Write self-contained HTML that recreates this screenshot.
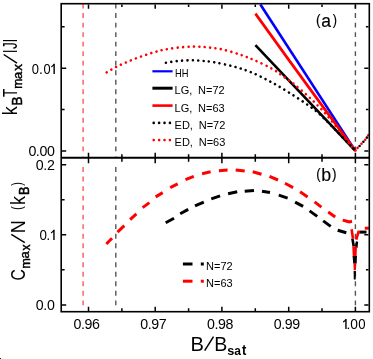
<!DOCTYPE html>
<html><head><meta charset="utf-8"><title>chart</title>
<style>
html,body{margin:0;padding:0;background:#fff;}
body{width:373px;height:359px;position:relative;overflow:hidden;font-family:"Liberation Sans",sans-serif;}
</style></head><body>
<svg width="373" height="359" viewBox="0 0 373 359" style="position:absolute;left:0;top:0;will-change:transform">
<rect x="0" y="0" width="373" height="359" fill="#fff"/>
<g fill="none" stroke-width="1.4" stroke-dasharray="4.9 4.62">
<line x1="83.1" y1="3.6" x2="83.1" y2="156.5" stroke="#ff5555"/>
<line x1="83.1" y1="167.1" x2="83.1" y2="306" stroke="#ff5555"/>
<line x1="115.8" y1="3.6" x2="115.8" y2="156.5" stroke="#555"/>
<line x1="115.8" y1="167.1" x2="115.8" y2="306" stroke="#555"/>
<line x1="355.4" y1="3.6" x2="355.4" y2="156.5" stroke="#555"/>
<line x1="355.4" y1="167.1" x2="355.4" y2="306" stroke="#555"/>
</g>
<g fill="none" stroke-linecap="butt">
<line x1="260.4" y1="4.5" x2="355.2" y2="150.6" stroke="#0000ff" stroke-width="2.6"/>
<line x1="255.4" y1="45.1" x2="355.2" y2="150.6" stroke="#000" stroke-width="2.6"/>
<path d="M255.4 13.6 L288.4 59.4 L330 116.4 L355.2 150.6" stroke="#ff0000" stroke-width="2.7"/>
</g>
<g fill="none" stroke-linecap="round" stroke-width="2.6" stroke-dasharray="0.01 5.4">
<path d="M165.9 62.7 C167.9 62.4 173.8 61.4 178.0 61.0 C182.2 60.6 186.8 60.3 190.8 60.3 C194.8 60.3 198.2 60.5 202.0 60.8 C205.8 61.1 208.5 61.3 213.6 62.2 C218.7 63.1 226.3 64.6 232.4 66.2 C238.5 67.8 243.8 69.3 250.0 71.8 C256.2 74.3 263.2 77.8 269.8 81.3 C276.4 84.8 283.0 88.8 289.6 92.9 C296.2 97.0 304.2 102.4 309.3 106.0 C314.4 109.6 316.6 111.4 320.0 114.5 C323.4 117.6 326.7 121.0 330.0 124.4 C333.3 127.8 335.8 130.4 340.0 134.7 C344.2 139.0 352.7 147.6 355.2 150.2" stroke="#000"/>
<path d="M106.7 72.4 C108.3 71.5 112.6 68.8 116.1 67.0 C119.6 65.2 123.5 63.5 127.5 61.8 C131.5 60.1 135.9 58.3 140.2 56.8 C144.4 55.3 149.0 53.8 153.0 52.6 C157.0 51.4 159.8 50.6 164.0 49.8 C168.2 49.0 173.1 48.1 178.0 47.6 C182.9 47.1 188.7 46.7 193.5 46.6 C198.3 46.5 202.3 46.8 207.0 47.3 C211.7 47.8 216.1 48.1 221.7 49.3 C227.3 50.5 234.9 52.9 240.4 54.7 C245.9 56.6 249.5 58.1 254.8 60.4 C260.1 62.7 267.3 66.1 272.0 68.7 C276.7 71.3 279.2 73.5 283.0 76.2 C286.8 78.9 290.1 80.9 294.7 84.7 C299.3 88.5 305.7 93.9 310.9 98.8 C316.1 103.7 321.1 108.8 326.0 114.3 C330.9 119.8 336.3 127.0 340.0 131.5 C343.7 136.0 345.5 138.3 348.0 141.4 C350.5 144.5 354.0 148.7 355.2 150.2" stroke="#ff0000"/>
</g>
<circle cx="359.6" cy="146.0" r="1.3" fill="#000"/>
<circle cx="363.4" cy="141.8" r="1.3" fill="#000"/>
<circle cx="366.9" cy="137.6" r="1.3" fill="#000"/>
<circle cx="353.2" cy="148.4" r="1.3" fill="#000"/>
<circle cx="357.6" cy="147.9" r="1.3" fill="#ff0000"/>
<circle cx="361.5" cy="143.8" r="1.3" fill="#ff0000"/>
<circle cx="365.2" cy="139.8" r="1.3" fill="#ff0000"/>
<circle cx="368.3" cy="135.3" r="1.3" fill="#ff0000"/>
<circle cx="355.5" cy="150.5" r="1.3" fill="#ff0000"/>
<g fill="none" stroke-width="3" stroke-linecap="butt">
<line x1="165.7" y1="222.7" x2="174.0" y2="218.2" stroke="#000"/>
<line x1="180.2" y1="213.7" x2="188.2" y2="209.4" stroke="#000"/>
<line x1="195.0" y1="205.9" x2="203.8" y2="202.1" stroke="#000"/>
<line x1="211.3" y1="198.9" x2="220.1" y2="195.8" stroke="#000"/>
<line x1="228.1" y1="193.8" x2="237.2" y2="191.8" stroke="#000"/>
<line x1="244.7" y1="191.3" x2="254.0" y2="190.6" stroke="#000"/>
<line x1="262.0" y1="191.2" x2="270.0" y2="192.6" stroke="#000"/>
<line x1="278.8" y1="195.1" x2="287.6" y2="198.1" stroke="#000"/>
<line x1="295.1" y1="202.1" x2="303.1" y2="206.4" stroke="#000"/>
<line x1="309.6" y1="210.9" x2="317.2" y2="216.4" stroke="#000"/>
<line x1="323.2" y1="220.9" x2="330.7" y2="226.4" stroke="#000"/>
<line x1="337.7" y1="230.2" x2="346.3" y2="232.8" stroke="#000"/>
<line x1="359.3" y1="232.1" x2="366.5" y2="232.1" stroke="#000"/>
<line x1="106.3" y1="244.0" x2="112.0" y2="238.2" stroke="#ff0000"/>
<line x1="117.5" y1="232.2" x2="124.3" y2="225.7" stroke="#ff0000"/>
<line x1="130.1" y1="219.7" x2="136.4" y2="213.9" stroke="#ff0000"/>
<line x1="142.6" y1="207.6" x2="149.4" y2="202.6" stroke="#ff0000"/>
<line x1="155.7" y1="196.9" x2="162.7" y2="192.6" stroke="#ff0000"/>
<line x1="170.2" y1="187.6" x2="177.7" y2="183.8" stroke="#ff0000"/>
<line x1="185.5" y1="179.6" x2="193.8" y2="176.3" stroke="#ff0000"/>
<line x1="202.1" y1="173.8" x2="210.6" y2="171.8" stroke="#ff0000"/>
<line x1="218.9" y1="170.8" x2="227.6" y2="170.0" stroke="#ff0000"/>
<line x1="235.7" y1="170.0" x2="244.7" y2="171.0" stroke="#ff0000"/>
<line x1="252.7" y1="171.8" x2="261.5" y2="174.3" stroke="#ff0000"/>
<line x1="269.5" y1="176.3" x2="278.0" y2="180.0" stroke="#ff0000"/>
<line x1="285.0" y1="183.3" x2="293.1" y2="187.6" stroke="#ff0000"/>
<line x1="300.1" y1="191.8" x2="307.6" y2="196.9" stroke="#ff0000"/>
<line x1="314.6" y1="201.9" x2="321.4" y2="207.1" stroke="#ff0000"/>
<line x1="328.2" y1="212.1" x2="335.2" y2="216.9" stroke="#ff0000"/>
<line x1="364.8" y1="228.2" x2="368.8" y2="228.2" stroke="#ff0000"/>
<path d="M342.7 220.1 L347 221.2 L349.5 221.9 L352 221.3" stroke="#ff0000"/>
<line x1="352.4" y1="238.6" x2="353.7" y2="246.2" stroke="#000" stroke-width="2.6"/>
<line x1="357.0" y1="241.5" x2="356.3" y2="247.8" stroke="#000" stroke-width="2.4"/>
<line x1="351.6" y1="229.2" x2="353.0" y2="238.8" stroke="#ff0000" stroke-width="2.6"/>
<line x1="358.9" y1="230.6" x2="356.2" y2="239.6" stroke="#ff0000" stroke-width="2.6"/>
<path d="M352.2 246.2 L357.0 246.6 L356.5 257 L352.8 257 Z" fill="#ff0000" stroke="none"/>
<path d="M352.6 256 L357.0 256 L356.6 263.4 L353.2 263.4 Z" fill="#000" stroke="none"/>
<path d="M353.4 263.2 L356.3 263.2 L355.9 270.2 L353.7 270.2 Z" fill="#ff0000" stroke="none"/>
<path d="M353.6 271 L355.9 271 L355.7 279.4 L353.8 279.4 Z" fill="#000" stroke="none"/>
</g>
<g fill="none" stroke="#000" stroke-linecap="butt">
<rect x="61.2" y="3.7" width="308.1" height="308.0" stroke-width="1.6"/>
<line x1="61.2" y1="157.8" x2="369.3" y2="157.8" stroke-width="1.9"/>
<path d="M88.5 4.5 v4.2 M88.5 152.7 v10.6 M88.5 306.7 v4.2 M121.9 4.5 v2.6 M121.9 154.3 v7.4 M121.9 308.3 v2.6 M155.2 4.5 v4.2 M155.2 152.7 v10.6 M155.2 306.7 v4.2 M188.6 4.5 v2.6 M188.6 154.3 v7.4 M188.6 308.3 v2.6 M221.9 4.5 v4.2 M221.9 152.7 v10.6 M221.9 306.7 v4.2 M255.3 4.5 v2.6 M255.3 154.3 v7.4 M255.3 308.3 v2.6 M288.7 4.5 v4.2 M288.7 152.7 v10.6 M288.7 306.7 v4.2 M322.0 4.5 v2.6 M322.0 154.3 v7.4 M322.0 308.3 v2.6 M355.4 4.5 v4.2 M355.4 152.7 v10.6 M355.4 306.7 v4.2 M62.0 151.0 h4.2 M364.3 151.0 h4.2 M62.0 109.6 h2.6 M365.9 109.6 h2.6 M62.0 68.2 h4.2 M364.3 68.2 h4.2 M62.0 26.8 h2.6 M365.9 26.8 h2.6 M62.0 304.9 h4.2 M364.3 304.9 h4.2 M62.0 269.8 h2.6 M365.9 269.8 h2.6 M62.0 234.8 h4.2 M364.3 234.8 h4.2 M62.0 199.8 h2.6 M365.9 199.8 h2.6 M62.0 164.7 h4.2 M364.3 164.7 h4.2 " stroke-width="1.5"/>
</g>
<g fill="none" stroke-linecap="butt">
<line x1="152.4" y1="71.3" x2="172.6" y2="71.3" stroke="#0000ff" stroke-width="2.2"/>
<line x1="152.4" y1="88.2" x2="172.6" y2="88.2" stroke="#000" stroke-width="3"/>
<line x1="152.4" y1="105.6" x2="172.6" y2="105.6" stroke="#ff0000" stroke-width="2.6"/>
<line x1="153.7" y1="122.9" x2="172" y2="122.9" stroke="#000" stroke-width="2.6" stroke-linecap="round" stroke-dasharray="0.01 5.4"/>
<line x1="153.7" y1="140.1" x2="172" y2="140.1" stroke="#ff0000" stroke-width="2.6" stroke-linecap="round" stroke-dasharray="0.01 5.4"/>
<line x1="182.9" y1="264" x2="192.5" y2="264" stroke="#000" stroke-width="3"/>
<line x1="200.8" y1="264" x2="203.8" y2="264" stroke="#000" stroke-width="3"/>
<line x1="182.9" y1="281.2" x2="192.5" y2="281.2" stroke="#ff0000" stroke-width="3"/>
<line x1="200.8" y1="281.2" x2="203.8" y2="281.2" stroke="#ff0000" stroke-width="3"/>
</g>
<g font-family="Liberation Sans, sans-serif" fill="#000">
<g font-size="11px" style="word-spacing:2.7px">
<text x="174.9" y="77.2" textLength="13.5" lengthAdjust="spacingAndGlyphs">HH</text>
<text x="174.6" y="94.4">LG, N=72</text>
<text x="174.6" y="111.6">LG, N=63</text>
<text x="174.6" y="128.9">ED, N=72</text>
<text x="174.6" y="146.1">ED, N=63</text>
<text x="206.1" y="270.1">N=72</text>
<text x="206.1" y="287.3">N=63</text>
</g>
<g font-size="14.2px" style="letter-spacing:-0.4px">
<text x="86.5" y="329.1" text-anchor="middle">0.96</text>
<text x="153.2" y="329.1" text-anchor="middle">0.97</text>
<text x="219.9" y="329.1" text-anchor="middle">0.98</text>
<text x="286.7" y="329.1" text-anchor="middle">0.99</text>
<text x="54.4" y="156.0" text-anchor="end">0.00</text>
<text x="54.4" y="169.8" text-anchor="end">0.2</text>
<text x="54.4" y="310.0" text-anchor="end">0.0</text>
</g>
<text transform="translate(31.79 73.86) scale(0.913 1.024)" font-size="14.2px">0</text>
<rect x="40.20" y="72.45" width="1.4" height="1.45"/>
<text transform="translate(43.60 73.86) scale(0.899 1.024)" font-size="14.2px">0</text>
<path d="M53.55 63.80 L54.85 63.80 L54.85 73.90 L53.45 73.90 L53.45 66.00 Q52.50 66.90 51.20 67.40 L51.20 66.15 Q52.80 65.40 53.55 63.80 Z"/>
<text transform="translate(39.38 239.86) scale(0.943 1.024)" font-size="14.2px">0</text>
<rect x="47.60" y="238.45" width="1.4" height="1.45"/>
<path d="M53.35 229.80 L54.65 229.80 L54.65 239.90 L53.25 239.90 L53.25 232.00 Q52.30 232.90 51.00 233.40 L51.00 232.15 Q52.60 231.40 53.35 229.80 Z"/>
<path d="M345.35 319.00 L346.65 319.00 L346.65 329.10 L345.25 329.10 L345.25 321.20 Q344.30 322.10 343.00 322.60 L343.00 321.35 Q344.60 320.60 345.35 319.00 Z"/>
<rect x="347.70" y="327.65" width="1.4" height="1.45"/>
<text transform="translate(350.26 329.11) scale(0.972 1.029)" font-size="14.2px">0</text>
<text transform="translate(358.19 329.11) scale(0.928 1.029)" font-size="14.2px">0</text>
<text transform="translate(315.96 24.81) scale(0.849 0.949)" font-size="16px" stroke="#000" stroke-width="0.15">(</text>
<text transform="translate(321.36 27.27) scale(0.947 0.982)" font-size="18.5px" stroke="#000" stroke-width="0.15">a</text>
<text transform="translate(332.72 24.81) scale(0.801 0.949)" font-size="16px" stroke="#000" stroke-width="0.15">)</text>
<text transform="translate(316.18 178.84) scale(0.825 0.953)" font-size="16px" stroke="#000" stroke-width="0.15">(</text>
<text transform="translate(321.15 181.42) scale(0.962 1.001)" font-size="18.5px" stroke="#000" stroke-width="0.15">b</text>
<text transform="translate(332.02 178.84) scale(0.849 0.953)" font-size="16px" stroke="#000" stroke-width="0.15">)</text>
<text transform="translate(190.55 350.80) scale(1.058 1.094)" font-size="19px">B</text>
<line x1="204.7" y1="350.6" x2="213.5" y2="336.6" stroke="#000" stroke-width="1.5"/>
<text transform="translate(214.30 350.80) scale(1.028 1.094)" font-size="19px">B</text>
<text transform="translate(227.35 354.57) scale(0.963 0.995)" font-size="13.2px" font-weight="bold">s</text>
<text transform="translate(234.25 354.57) scale(0.909 0.996)" font-size="13.2px" font-weight="bold">a</text>
<text transform="translate(241.94 354.57) scale(0.982 1.089)" font-size="13.2px" font-weight="bold">t</text>
<g transform="rotate(-90)">
<text transform="translate(-115.21 17.30) scale(0.946 1.031)" font-size="19px">k</text>
<text transform="translate(-105.84 21.70) scale(1.038 1.052)" font-size="13.4px" stroke="#000" stroke-width="0.45">B</text>
<text transform="translate(-97.01 17.20) scale(0.726 1.063)" font-size="19px">T</text>
<text transform="translate(-88.81 21.70) scale(0.919 0.943)" font-size="13.2px" stroke="#000" stroke-width="0.45">m</text>
<text transform="translate(-78.95 21.68) scale(0.988 0.954)" font-size="13.2px" stroke="#000" stroke-width="0.45">a</text>
<text transform="translate(-70.75 21.70) scale(1.014 0.961)" font-size="13.2px" stroke="#000" stroke-width="0.45">x</text>
<line x1="3.7" y1="54.5" x2="17.0" y2="63.2" stroke="#000" stroke-width="1.45" transform="rotate(90)"/>
<text transform="translate(-42.42 14.11) scale(1.057 1.075)" font-size="14px">|</text>
<text transform="translate(-48.91 17.30) scale(0.719 1.079)" font-size="19px">J</text>
<text transform="translate(-53.22 14.11) scale(1.057 1.075)" font-size="14px">|</text>
<text transform="translate(-280.50 25.00) scale(0.831 1.085)" font-size="19px">C</text>
<text transform="translate(-268.85 29.50) scale(0.973 0.943)" font-size="13.2px" stroke="#000" stroke-width="0.45">m</text>
<text transform="translate(-258.55 29.48) scale(0.988 0.954)" font-size="13.2px" stroke="#000" stroke-width="0.45">a</text>
<text transform="translate(-250.54 29.50) scale(0.919 0.961)" font-size="13.2px" stroke="#000" stroke-width="0.45">x</text>
<line x1="11.3" y1="234.4" x2="24.8" y2="242.7" stroke="#000" stroke-width="1.45" transform="rotate(90)"/>
<text transform="translate(-233.27 25.00) scale(0.942 1.086)" font-size="19px">N</text>
<text transform="translate(-210.00 21.79) scale(0.707 0.939)" font-size="16px">(</text>
<text transform="translate(-205.01 25.10) scale(0.946 1.031)" font-size="19px">k</text>
<text transform="translate(-194.93 29.20) scale(0.939 1.041)" font-size="13.4px" stroke="#000" stroke-width="0.45">B</text>
<text transform="translate(-185.67 21.79) scale(0.707 0.939)" font-size="16px">)</text>
</g>
</g>
<rect x="0" y="358" width="1" height="1" fill="#222"/>
</svg>
</body></html>
